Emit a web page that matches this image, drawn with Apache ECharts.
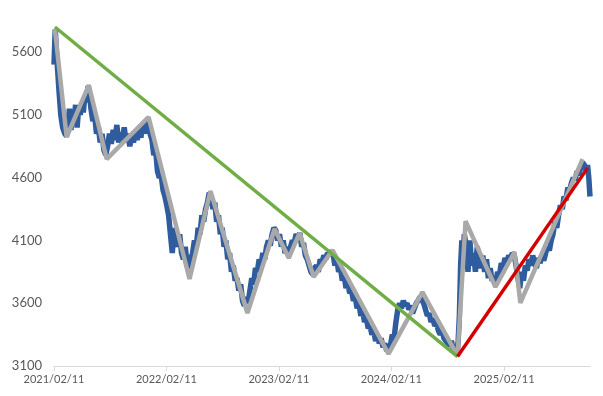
<!DOCTYPE html>
<html>
<head>
<meta charset="utf-8">
<script src="https://cdn.jsdelivr.net/npm/echarts@6/dist/echarts.min.js"></script>
<style>html,body{margin:0;padding:0;background:#fff}#c{width:603px;height:396px}</style>
</head>
<body>
<div id="c"></div>
<script>
// x = days since 2021/02/11
const xTickDays = [0, 365, 730, 1095, 1461];
const xTickLabels = ['2021/02/11', '2022/02/11', '2023/02/11', '2024/02/11', '2025/02/11'];
const yTicks = [3100, 3600, 4100, 4600, 5100, 5600];

const blueDays = [0,4,8,12,16,22,28,35,41,45,50,55,60,65,70,75,80,85,90,95,100,106,111,116,120,126,132,138,144,150,156,162,168,174,180,186,192,198,204,210,216,222,228,234,240,246,252,258,264,270,276,282,288,294,300,306,312,318,324,330,336,342,348,354,360,366,372,378,384,390,396,402,408,414,420,426,432,438,444,450,456,462,468,474,480,486,492,498,504,510,516,522,528,534,540,546,552,558,564,570,576,582,588,594,600,606,612,618,624,630,636,642,648,654,660,666,672,678,684,690,696,702,708,714,720,726,732,738,744,750,756,762,768,774,780,786,792,798,804,810,816,822,828,834,840,846,852,858,864,870,876,882,888,894,900,906,912,918,924,930,936,942,948,954,960,966,972,978,984,990,996,1002,1008,1014,1020,1026,1032,1038,1044,1050,1056,1062,1068,1074,1080,1086,1092,1098,1104,1110,1116,1122,1128,1134,1140,1146,1152,1158,1164,1170,1176,1182,1188,1194,1200,1206,1212,1218,1224,1230,1236,1242,1248,1254,1260,1266,1272,1278,1284,1290,1296,1302,1308,1312,1316,1320,1324,1328,1332,1338,1344,1350,1356,1362,1368,1374,1380,1386,1392,1398,1404,1410,1416,1422,1428,1434,1440,1446,1452,1458,1464,1470,1476,1482,1488,1494,1500,1506,1512,1518,1524,1530,1536,1542,1548,1554,1560,1566,1572,1578,1584,1590,1596,1602,1608,1614,1620,1626,1632,1638,1644,1650,1656,1662,1668,1674,1680,1686,1692,1698,1704,1710,1716,1722,1728,1732,1736,1740];
const blueValues = [5500,5780,5600,5450,5300,5100,5000,4950,4930,5000,5150,4980,5120,5050,5180,5000,5150,5100,5200,5120,5250,5200,5330,5250,5150,5050,5100,4950,5000,4880,4950,4820,4780,4850,4950,4870,4980,4900,5020,4880,4960,4900,5000,4880,4950,4850,4930,4880,4970,4900,4980,4920,5020,4950,5060,5000,4950,4900,4780,4820,4650,4600,4620,4500,4450,4380,4300,4150,4000,4200,4100,4050,4150,4000,3950,4050,3920,3880,3950,4000,4100,4050,4200,4150,4300,4250,4350,4400,4480,4450,4350,4400,4250,4300,4150,4200,4050,4100,3950,4000,3850,3900,3780,3800,3700,3750,3620,3580,3650,3600,3700,3800,3750,3880,3850,3950,3900,4000,3950,4050,4100,4060,4150,4200,4180,4100,4150,4050,4100,4000,4050,3980,4050,4100,4080,4150,4120,4160,4050,4080,3980,3950,3900,3850,3830,3880,3900,3850,3950,3920,3980,3950,4000,3980,4020,3990,3900,3950,3850,3880,3780,3820,3720,3760,3680,3700,3620,3650,3560,3600,3500,3540,3450,3480,3400,3420,3350,3380,3300,3340,3280,3320,3250,3280,3220,3240,3260,3350,3320,3450,3550,3600,3560,3620,3580,3600,3550,3580,3520,3560,3600,3620,3650,3630,3600,3550,3500,3520,3450,3480,3420,3440,3380,3350,3380,3320,3300,3280,3260,3300,3230,3250,3190,3300,3500,3900,4100,3950,4150,4050,3850,4100,3900,4000,3850,4050,3950,3880,3980,3850,3950,3800,3880,3780,3800,3760,3850,3820,3920,3880,3960,3920,3980,3950,4000,3980,3900,3800,3720,3850,3780,3900,3860,3950,3900,3980,3920,3880,3960,3920,3980,3940,4000,4050,4020,4100,4150,4250,4200,4300,4380,4350,4450,4420,4520,4500,4560,4600,4580,4650,4620,4680,4720,4700,4650,4700,4600,4450];

const grayDays = [3,41,113,171,307,440,508,628,716,762,797,843,904,1086,1196,1310,1336,1433,1495,1514,1716];
const grayValues = [5780,4923,5337,4748,5083,3793,4493,3522,4191,3960,4159,3809,4024,3196,3689,3180,4254,3729,4008,3602,4748];

const greenDays = [3, 1310];
const greenValues = [5800, 3175];
const redDays = [1310, 1732];
const redValues = [3175, 4676];

const zip = (a, b) => a.map((d, i) => [d, b[i]]);

const chart = echarts.init(document.getElementById('c'));
chart.setOption({
  animation: false,
  grid: { left: 54, right: 13, top: 27, bottom: 30 },
  xAxis: {
    type: 'value', min: 0, max: 1740,
    axisLine: { show: true, lineStyle: { color: '#d9d9d9', width: 1 } },
    axisTick: { show: true, length: 5, lineStyle: { color: '#d9d9d9' }, customValues: xTickDays },
    axisLabel: {
      customValues: xTickDays,
      formatter: v => xTickLabels[xTickDays.indexOf(v)] || '',
      color: '#595959', fontFamily: 'Lato', fontSize: 11, margin: 8
    },
    splitLine: { show: false }
  },
  yAxis: {
    type: 'value', min: 3100, max: 5800,
    axisLine: { show: false }, axisTick: { show: false },
    axisLabel: { customValues: yTicks, formatter: v => String(v), color: '#595959', fontFamily: 'Lato', fontSize: 13, margin: 12 },
    splitLine: { show: false }
  },
  series: [
    { type: 'line', data: zip(blueDays, blueValues), symbol: 'none', lineStyle: { color: '#2f5c9e', width: 5.5 }, z: 1 },
    { type: 'line', data: zip(grayDays, grayValues), symbol: 'none', lineStyle: { color: '#a9a9a9', width: 4.5 }, z: 2 },
    { type: 'line', data: zip(greenDays, greenValues), symbol: 'none', lineStyle: { color: '#70ad47', width: 3.5 }, z: 3 },
    { type: 'line', data: zip(redDays, redValues), symbol: 'none', lineStyle: { color: '#d40000', width: 3.5 }, z: 3 }
  ]
});
</script>
</body>
</html>
